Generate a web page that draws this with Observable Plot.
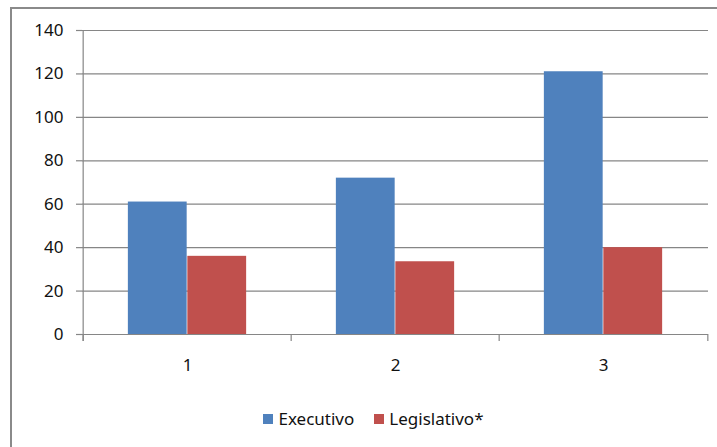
<!DOCTYPE html>
<html>
<head>
<meta charset="utf-8">
<script src="https://cdn.jsdelivr.net/npm/d3@7"></script>
<script src="https://cdn.jsdelivr.net/npm/@observablehq/plot@0.6"></script>
<style>
  html, body { margin: 0; padding: 0; background: #fff; }
  body { width: 717px; height: 447px; overflow: hidden; position: relative; font-family: "Noto Sans", sans-serif; }
  #frame { position: absolute; left: 10px; top: 7px; width: 900px; height: 700px; border: 2px solid #8a8a8a; box-sizing: border-box; pointer-events: none; }
  #chart { position: absolute; left: 0; top: 0; }
  #legend { position: absolute; left: 0; top: 408px; width: 717px; display: flex; justify-content: center; align-items: center; font-size: 17px; line-height: 22px; color: #111; padding-left: 30px; box-sizing: border-box; }
  .item { display: flex; align-items: center; margin: 0 10px; }
  .sw { width: 10px; height: 10px; margin-right: 5px; }
</style>
</head>
<body>
<div id="frame"></div>
<div id="chart"></div>
<div id="legend"></div>
<script>
// Categories and series values
const categories = ["1", "2", "3"];
const seriesNames = ["Executivo", "Legislativo*"];
const executivo = [61, 72, 121];
const legislativo = [36, 33.5, 40];
const yTicks = [0, 20, 40, 60, 80, 100, 120, 140];
const colors = ["#4F81BD", "#C0504D"];

const data = categories.flatMap((c, i) => [
  {cat: c, series: seriesNames[0], value: executivo[i]},
  {cat: c, series: seriesNames[1], value: legislativo[i]}
]);

const W = 717, H = 400;
const mL = 82, mR = 9, mT = 30, mB = 66;
const bw = (W - mL - mR) / categories.length;   // band width per category
const barW = bw * 0.285;                           // width of each bar
const gap = (bw - 2 * barW) / 2;                   // space on each side of a bar pair
const pxPerUnit = (H - mT - mB) / 140;
const tickLen = -7 / pxPerUnit;                    // small boundary ticks below the baseline

const grid = "#868686";

const chart = Plot.plot({
  width: W,
  height: H,
  marginLeft: mL,
  marginRight: mR,
  marginTop: mT,
  marginBottom: mB,
  style: {fontFamily: "'Noto Sans', sans-serif", fontSize: "17px", color: "#111", background: "transparent"},
  x: {domain: categories, padding: 0, label: null},
  y: {domain: [0, 140], label: null},
  color: {domain: seriesNames, range: colors},
  marks: [
    Plot.gridY(yTicks, {stroke: grid, strokeOpacity: 1, strokeWidth: 1.2}),
    Plot.barY(data.filter(d => d.series === seriesNames[0]), {
      x: "cat", y: "value", fill: "series",
      insetLeft: gap, insetRight: bw - gap - barW
    }),
    Plot.barY(data.filter(d => d.series === seriesNames[1]), {
      x: "cat", y: "value", fill: "series",
      insetLeft: gap + barW, insetRight: gap
    }),
    Plot.ruleY([0], {stroke: grid, strokeWidth: 1.2}),
    // vertical axis line
    Plot.ruleX([categories[0]], {dx: -bw / 2, y1: tickLen, y2: 140, stroke: grid, strokeWidth: 1.2}),
    // category boundary ticks
    Plot.ruleX(categories, {dx: -bw / 2, y1: tickLen, y2: 0, stroke: grid, strokeWidth: 1.2}),
    Plot.ruleX([categories[categories.length - 1]], {dx: bw / 2, y1: tickLen, y2: 0, stroke: grid, strokeWidth: 1.2}),
    Plot.axisY(yTicks, {tickSize: 6, tickPadding: 13, stroke: grid, strokeWidth: 1.2, fontSize: 17, label: null}),
    Plot.axisX({tickSize: 0, tickPadding: 24, fontSize: 17, label: null})
  ]
});
document.getElementById("chart").append(chart);

const legend = document.getElementById("legend");
seriesNames.forEach((name, i) => {
  const item = document.createElement("div");
  item.className = "item";
  const sw = document.createElement("span");
  sw.className = "sw";
  sw.style.background = colors[i];
  const label = document.createElement("span");
  label.textContent = name;
  item.append(sw, label);
  legend.append(item);
});
</script>
</body>
</html>
